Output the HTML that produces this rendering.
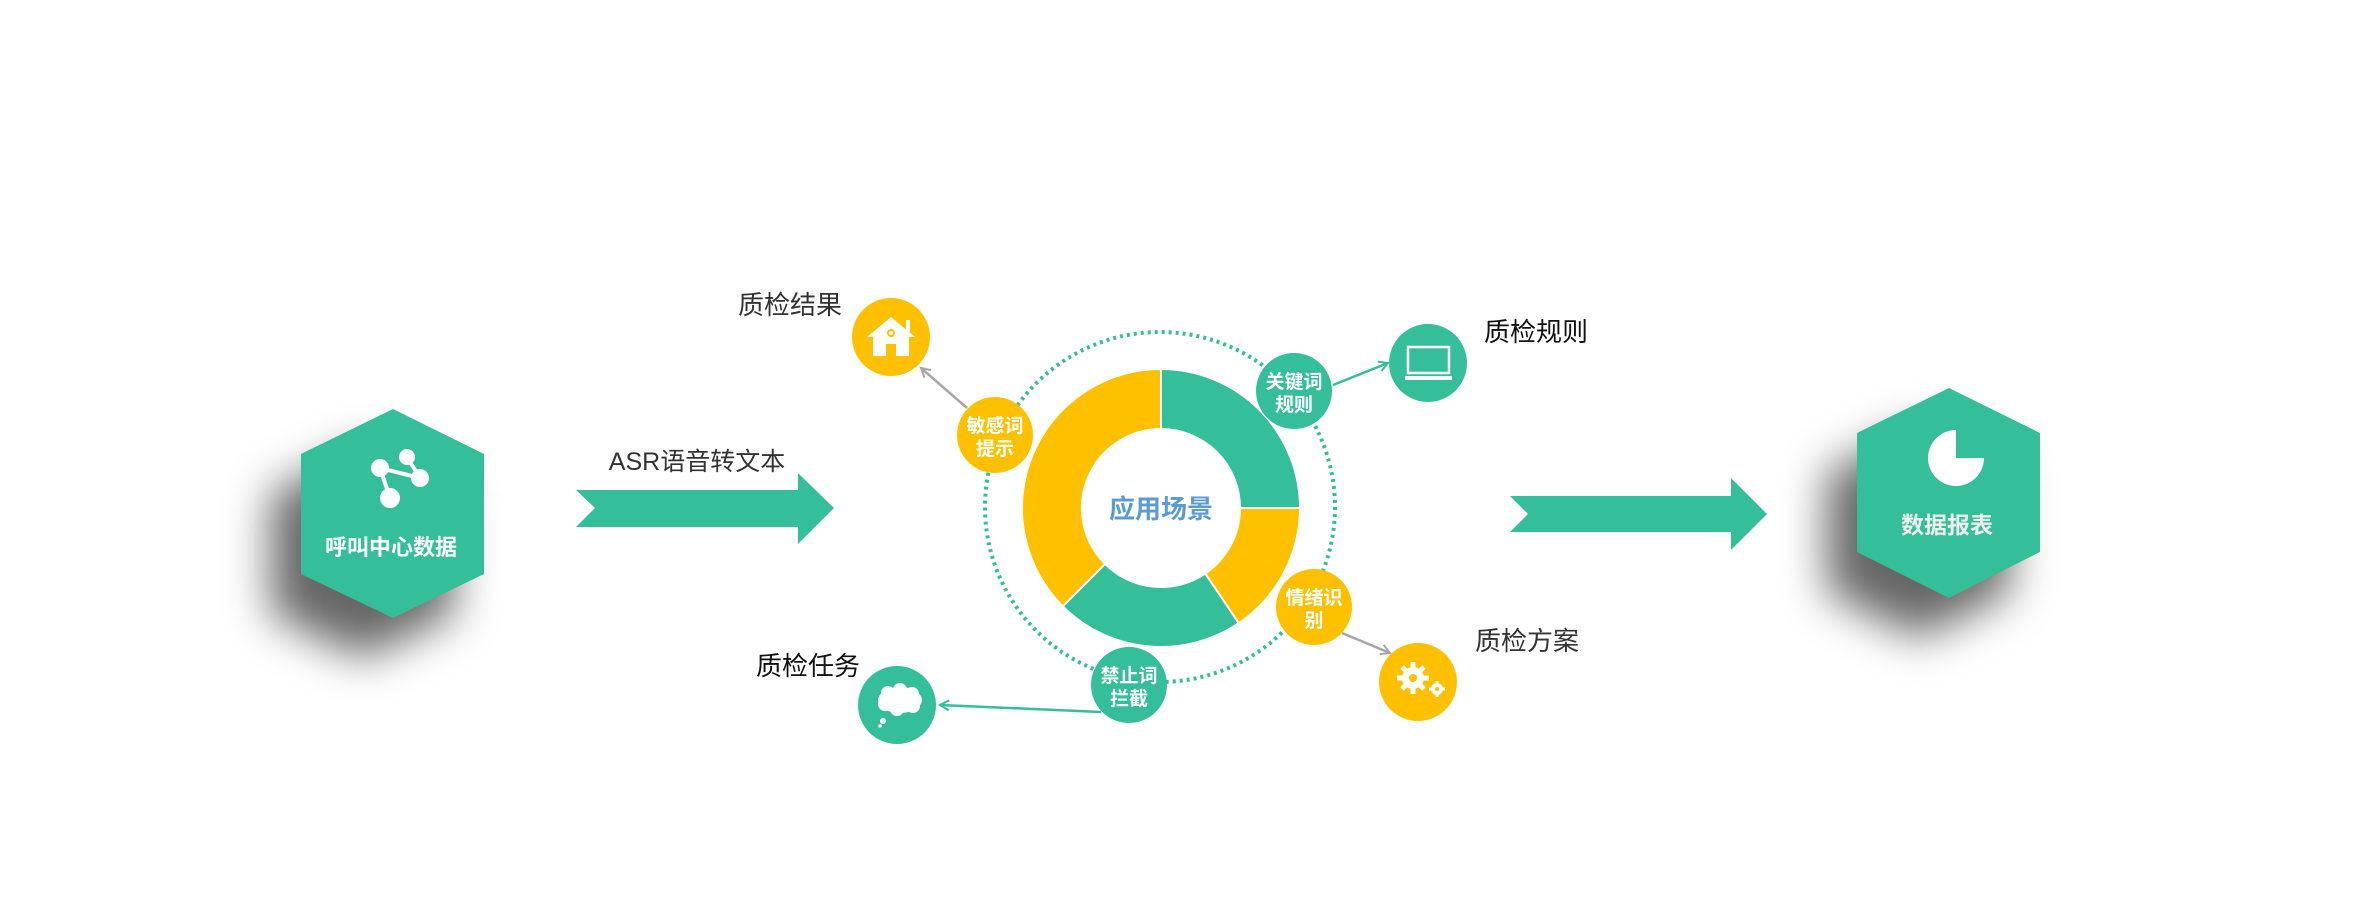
<!DOCTYPE html>
<html><head><meta charset="utf-8"><style>
html,body{margin:0;padding:0;background:#fff}
svg{display:block}
text{font-family:"Liberation Sans","Noto Sans CJK SC",sans-serif}
</style></head><body>
<svg width="2362" height="900" viewBox="0 0 2362 900" xmlns="http://www.w3.org/2000/svg">
<defs>
<filter id="blur" x="-50%" y="-50%" width="200%" height="200%"><feGaussianBlur stdDeviation="22"/></filter>
<marker id="mg" viewBox="0 0 12 12" refX="10" refY="6" markerWidth="12" markerHeight="12" markerUnits="userSpaceOnUse" orient="auto"><path d="M1,1 L10,6 L1,11" fill="none" stroke="#34be9a" stroke-width="2"/></marker>
<marker id="mr" viewBox="0 0 12 12" refX="10" refY="6" markerWidth="12" markerHeight="12" markerUnits="userSpaceOnUse" orient="auto"><path d="M1,1 L10,6 L1,11" fill="none" stroke="#a6a6a6" stroke-width="2"/></marker>
</defs>

<!-- left hex shadow -->
<polygon points="363,449 454,494 454,614 363,658 271,614 271,494" fill="rgba(0,0,0,0.6)" filter="url(#blur)"/>
<polygon points="393,409 484,454 484,574 393,618 301,574 301,454" fill="#34be9a"/>
<g stroke="#fff" stroke-width="4" fill="#fff">
<line x1="380" y1="468" x2="420" y2="478"/><line x1="420" y1="478" x2="407" y2="457"/><line x1="380" y1="468" x2="390" y2="498"/>
<circle cx="407" cy="457" r="6"/><circle cx="380" cy="468" r="7"/><circle cx="420" cy="478" r="7"/><circle cx="390" cy="498" r="8"/>
</g>
<text x="391" y="555" font-size="22" font-weight="bold" fill="#fff" text-anchor="middle">呼叫中心数据</text>

<!-- arrow 1 -->
<polygon points="576,490 798,490 798,473 834,508 798,544 798,527 576,527 595,508" fill="#34be9a"/>
<text x="697" y="470" font-size="25" fill="#333" text-anchor="middle">ASR语音转文本</text>

<!-- donut -->
<circle cx="1160" cy="507" r="175" fill="none" stroke="#34be9a" stroke-width="4" stroke-dasharray="3,4"/>
<g stroke="#fff" stroke-width="2">
<path d="M1161,369 A139,139 0 0 1 1300,508 L1240,508 A79,79 0 0 0 1161,429 Z" fill="#34be9a"/>
<path d="M1300,508 A139,139 0 0 1 1238.7,623.2 L1205.2,573.5 A79,79 0 0 0 1240,508 Z" fill="#ffc000"/>
<path d="M1238.7,623.2 A139,139 0 0 1 1062.7,606.3 L1105.1,563.9 A79,79 0 0 0 1205.2,573.5 Z" fill="#34be9a"/>
<path d="M1062.7,606.3 A139,139 0 0 1 1161,369 L1161,429 A79,79 0 0 0 1105.1,563.9 Z" fill="#ffc000"/>
</g>
<text x="1161" y="518" font-size="26" font-weight="bold" fill="#5b9bd5" text-anchor="middle">应用场景</text>

<!-- connectors -->
<line x1="967" y1="408" x2="921" y2="368" stroke="#a6a6a6" stroke-width="2.5" marker-end="url(#mr)"/>
<line x1="1333" y1="385" x2="1388" y2="363" stroke="#34be9a" stroke-width="2.5" marker-end="url(#mg)"/>
<line x1="1342" y1="633" x2="1390" y2="653" stroke="#a6a6a6" stroke-width="2.5" marker-end="url(#mr)"/>
<line x1="1101" y1="712" x2="940" y2="705" stroke="#34be9a" stroke-width="2.5" marker-end="url(#mg)"/>

<!-- small circles -->
<g font-size="19" font-weight="bold" fill="#fff" text-anchor="middle">
<circle cx="995" cy="435" r="38" fill="#ffc000"/><text x="995" y="432">敏感词</text><text x="995" y="455">提示</text>
<circle cx="1294" cy="391" r="38" fill="#34be9a"/><text x="1294" y="388">关键词</text><text x="1294" y="411">规则</text>
<circle cx="1314" cy="607" r="38" fill="#ffc000"/><text x="1314" y="604">情绪识</text><text x="1314" y="627">别</text>
<circle cx="1129" cy="685" r="38" fill="#34be9a"/><text x="1129" y="682">禁止词</text><text x="1129" y="705">拦截</text>
</g>

<!-- outer icons -->
<circle cx="891" cy="337" r="39" fill="#ffc000"/>
<g fill="#fff"><polygon points="891,317 867,337 873,337 873,356 886,356 886,344 896,344 896,356 909,356 909,337 915,337"/><rect x="906" y="320" width="4" height="12"/><circle cx="891" cy="333" r="4" fill="#ffc000"/><circle cx="891" cy="333" r="2" fill="#fff"/></g>
<text x="790" y="314" font-size="26" fill="#333" text-anchor="middle">质检结果</text>

<circle cx="1428" cy="363" r="39" fill="#34be9a"/>
<rect x="1408" y="347" width="41" height="26" fill="none" stroke="#fff" stroke-width="2.5"/>
<rect x="1405" y="376" width="47" height="4" fill="#fff"/>
<text x="1536" y="341" font-size="26" fill="#111" text-anchor="middle">质检规则</text>

<circle cx="1418" cy="682" r="39" fill="#ffc000"/>
<g fill="#fff"><circle cx="1413" cy="678" r="11"/>
<g stroke="#fff" stroke-width="5"><line x1="1413" y1="662" x2="1413" y2="694"/><line x1="1397" y1="678" x2="1429" y2="678"/><line x1="1402" y1="667" x2="1424" y2="689"/><line x1="1402" y1="689" x2="1424" y2="667"/></g>
<circle cx="1413" cy="678" r="4" fill="#ffc000"/>
<circle cx="1437" cy="689" r="6"/><g stroke="#fff" stroke-width="3"><line x1="1437" y1="681" x2="1437" y2="697"/><line x1="1429" y1="689" x2="1445" y2="689"/></g><circle cx="1437" cy="689" r="2" fill="#ffc000"/></g>
<text x="1527" y="650" font-size="26" fill="#333" text-anchor="middle">质检方案</text>

<circle cx="897" cy="705" r="39" fill="#34be9a"/>
<g fill="#fff"><ellipse cx="900" cy="700" rx="22" ry="13"/><circle cx="888" cy="693" r="7"/><circle cx="900" cy="690" r="7"/><circle cx="912" cy="694" r="7"/><circle cx="885" cy="704" r="7"/><circle cx="913" cy="706" r="7"/><circle cx="897" cy="709" r="7"/><circle cx="883" cy="721" r="3"/><circle cx="880" cy="726" r="1.8"/></g>
<text x="808" y="675" font-size="26" fill="#111" text-anchor="middle">质检任务</text>

<!-- arrow 2 -->
<polygon points="1510,496 1731,496 1731,478 1767,514 1731,550 1731,532 1510,532 1528,514" fill="#34be9a"/>

<!-- right hex -->
<polygon points="1919,428 2010,473 2010,592 1919,638 1827,592 1827,473" fill="rgba(0,0,0,0.6)" filter="url(#blur)"/>
<polygon points="1949,388 2040,433 2040,552 1949,598 1857,552 1857,433" fill="#34be9a"/>
<path d="M1956,430 L1956,458 L1984,458 A28,28 0 1 1 1956,430 Z" fill="#fff"/>
<text x="1947" y="533" font-size="23" font-weight="bold" fill="#eee" text-anchor="middle">数据报表</text>
</svg>
</body></html>
